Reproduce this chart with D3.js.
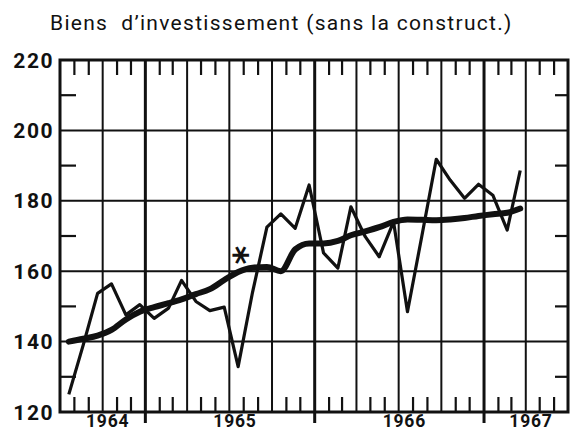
<!DOCTYPE html>
<html>
<head>
<meta charset="utf-8">
<script src="https://cdn.jsdelivr.net/npm/d3@7"></script>
<style>
  body { margin: 0; background: #fff; }
  svg { display: block; font-family: Roboto, "DejaVu Sans", sans-serif; }
</style>
</head>
<body>
<div id="plot"></div>
<script>
// monthly values (July 1964 - March 1967)
const months = ["1964-07","1964-08","1964-09","1964-10","1964-11","1964-12",
                "1965-01","1965-02","1965-03","1965-04","1965-05","1965-06",
                "1965-07","1965-08","1965-09","1965-10","1965-11","1965-12",
                "1966-01","1966-02","1966-03","1966-04","1966-05","1966-06",
                "1966-07","1966-08","1966-09","1966-10","1966-11","1966-12",
                "1967-01","1967-02","1967-03"];
const monthly = [125, 139, 153.7, 156.4, 147.6, 150.5,
                 146.6, 149.5, 157.4, 151.4, 148.8, 149.8,
                 132.9, 154, 172.5, 176.3, 172.2, 184.5,
                 165.2, 160.9, 178.3, 169.8, 164.1, 174,
                 148.5, 170, 191.8, 185.9, 180.7, 184.7,
                 181.6, 171.7, 188.6];
const trend = [140, 140.8, 141.7, 143.3, 146.3, 148.5,
               149.8, 150.9, 152, 153.5, 154.9, 157.5,
               159.8, 161, 161.2, 160, 166.2, 167.9,
               167.9, 168.6, 170.2, 171.3, 172.5, 174,
               174.7, 174.6, 174.5, 174.7, 175.1, 175.7,
               176.2, 176.6, 177.8];
const yTicks = [120, 140, 160, 180, 200, 220];
const yMinor = [130, 150, 170, 190, 210];
const years = ["1964", "1965", "1966", "1967"];
const title = "Biens  d\u2019investissement (sans la construct.)";

const W = 584, H = 432;
const margin = {top: 60, right: 16, bottom: 20, left: 60};
const x0 = margin.left, x1 = W - margin.right, y0 = H - margin.bottom, y1 = margin.top;

const svg = d3.select("div#plot")
  .append("svg")
    .attr("width", W)
    .attr("height", H);

const parse = d3.timeParse("%Y-%m");
// points sit about two thirds into each month
const dates = months.map(m => d3.timeDay.offset(parse(m), 19));

const x = d3.scaleTime()
    .domain([parse("1964-07"), parse("1967-07")])
    .range([x0, x1]);
const y = d3.scaleLinear()
    .domain([120, 220])
    .range([y0, y1]);

const ink = "#111";

// horizontal grid
svg.append("g").selectAll("line")
  .data(yTicks.slice(1, -1))
  .join("line")
    .attr("x1", x0).attr("x2", x1)
    .attr("y1", d => y(d)).attr("y2", d => y(d))
    .attr("stroke", ink).attr("stroke-width", 2);

// quarter grid, year lines heavier and running below the frame
const quarters = d3.timeMonth.every(3).range(x.domain()[0], x.domain()[1]).slice(1);
svg.append("g").selectAll("line")
  .data(quarters)
  .join("line")
    .attr("x1", d => x(d)).attr("x2", d => x(d))
    .attr("y1", y1)
    .attr("y2", d => d.getMonth() === 0 ? y0 + 11 : y0)
    .attr("stroke", ink)
    .attr("stroke-width", d => d.getMonth() === 0 ? 3 : 2);

// month ticks top and bottom
const monthTicks = d3.timeMonth.range(x.domain()[0], x.domain()[1]).filter(d => d.getMonth() % 3 !== 0);
const mt = svg.append("g").attr("stroke", ink).attr("stroke-width", 2.2);
mt.selectAll("line.top")
  .data(monthTicks)
  .join("line").attr("class", "top")
    .attr("x1", d => x(d)).attr("x2", d => x(d))
    .attr("y1", y1).attr("y2", y1 + 15);
mt.selectAll("line.bot")
  .data(monthTicks)
  .join("line").attr("class", "bot")
    .attr("x1", d => x(d)).attr("x2", d => x(d))
    .attr("y1", y0).attr("y2", y0 - 15);

// minor y ticks left and right
mt.selectAll("line.yl")
  .data(yMinor)
  .join("line").attr("class", "yl")
    .attr("x1", x0).attr("x2", x0 + 16)
    .attr("y1", d => y(d)).attr("y2", d => y(d));
mt.selectAll("line.yr")
  .data(yMinor)
  .join("line").attr("class", "yr")
    .attr("x1", x1).attr("x2", x1 - 13)
    .attr("y1", d => y(d)).attr("y2", d => y(d));

// frame
svg.append("rect")
    .attr("x", x0).attr("y", y1)
    .attr("width", x1 - x0).attr("height", y0 - y1)
    .attr("fill", "none").attr("stroke", ink).attr("stroke-width", 3);

// y labels
svg.append("g").selectAll("text")
  .data(yTicks)
  .join("text")
    .attr("x", x0 - 6)
    .attr("y", d => y(d))
    .attr("dy", "0.36em")
    .attr("text-anchor", "end")
    .attr("font-size", 21)
    .attr("font-weight", "bold")
    .attr("letter-spacing", 1.5)
    .attr("fill", ink)
    .text(d => d);

// year labels, centred in the visible part of each year
svg.append("g").selectAll("text")
  .data(years)
  .join("text")
    .attr("x", d => {
      const a = Math.max(x(parse(d + "-01")), x0);
      const b = Math.min(x(parse((+d + 1) + "-01")), x1);
      return (a + b) / 2 + 5;
    })
    .attr("y", H - 5)
    .attr("text-anchor", "middle")
    .attr("font-size", 17.5)
    .attr("font-weight", "bold")
    .attr("letter-spacing", 0.8)
    .attr("fill", ink)
    .text(d => d);

// series
const line = d3.line()
    .x((d, i) => x(dates[i]))
    .y(d => y(d));

svg.append("path")
    .datum(monthly)
    .attr("d", line)
    .attr("fill", "none")
    .attr("stroke", ink)
    .attr("stroke-width", 3.2)
    .attr("stroke-linejoin", "round");

svg.append("path")
    .datum(trend)
    .attr("d", line.curve(d3.curveMonotoneX))
    .attr("fill", "none")
    .attr("stroke", ink)
    .attr("stroke-width", 6)
    .attr("stroke-linecap", "round")
    .attr("stroke-linejoin", "round");

// footnote mark near January 1965 (turned so one arm lies flat)
const sx = x(parse("1965-08")) - 1, sy = y(162) + 11;
svg.append("text")
    .attr("x", sx)
    .attr("y", sy)
    .attr("transform", `rotate(90, ${sx}, ${sy - 20})`)
    .attr("text-anchor", "middle")
    .attr("font-family", "'DejaVu Sans', sans-serif")
    .attr("font-size", 36)
    .attr("font-weight", "bold")
    .attr("fill", ink)
    .text("*");

// title
svg.append("text")
    .attr("x", 50)
    .attr("y", 30)
    .attr("font-size", 21)
    .attr("letter-spacing", 1.3)
    .attr("fill", ink)
    .style("white-space", "pre")
    .text(title);
</script>
</body>
</html>
